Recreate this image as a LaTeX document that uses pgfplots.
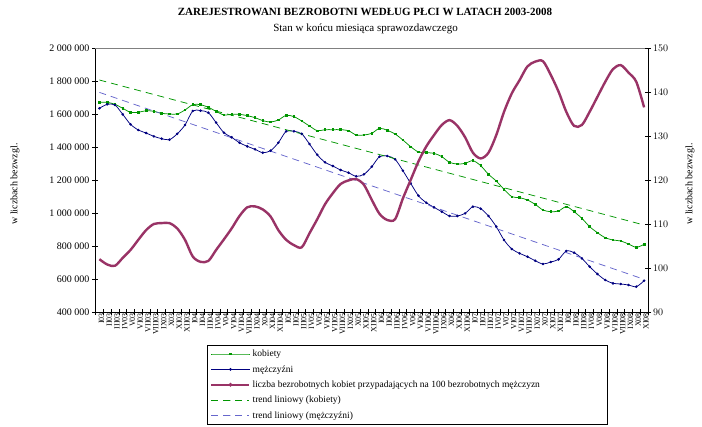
\documentclass[border=0pt]{standalone}
\usepackage{fontspec}
\setmainfont{Liberation Serif}
\usepackage{pgfplots}
\pgfplotsset{compat=1.18}
\usepackage{pgfplotstable}

\definecolor{kob}{RGB}{0,150,0}
\definecolor{mez}{RGB}{0,0,128}
\definecolor{ratio}{RGB}{153,51,102}
\definecolor{tmez}{RGB}{102,102,204}

\pgfplotstableread{
i kob mez
0 1670700 1634400
1 1670700 1658600
2 1658600 1654500
3 1634400 1598000
4 1610100 1537400
5 1610100 1503000
6 1620200 1484800
7 1616100 1464600
8 1604000 1450400
9 1600000 1444400
10 1600000 1479700
11 1624200 1533300
12 1656600 1618100
13 1656600 1620200
14 1640400 1608100
15 1616100 1547700
16 1593900 1486800
17 1598000 1458600
18 1598000 1426100
19 1589900 1404000
20 1577700 1385800
21 1559600 1365600
22 1551500 1377700
23 1563600 1426100
24 1591900 1495000
25 1583800 1495000
26 1557500 1479700
27 1527200 1418100
28 1498900 1352400
29 1505000 1307000
30 1505000 1284800
31 1505000 1260600
32 1498900 1244400
33 1472700 1222200
34 1472700 1234300
35 1482800 1280700
36 1513100 1341400
37 1501000 1345400
38 1478700 1325200
39 1442400 1256500
40 1401900 1179800
41 1369700 1105000
42 1365600 1062600
43 1361600 1034300
44 1341400 1008000
45 1307000 981800
46 1296900 981800
47 1301000 997900
48 1317100 1038300
49 1286800 1026200
50 1234300 981800
51 1193900 917100
52 1143400 836300
53 1098900 781700
54 1092900 755500
55 1078700 735200
56 1052500 711000
57 1018100 690800
58 1008000 702900
59 1012100 719100
60 1038300 769600
61 1008000 759500
62 967800 725100
63 917100 674700
64 880700 630300
65 850400 593900
66 836300 573700
67 830300 569700
68 812000 563600
69 792000 553500
70 810100 589700
}\dane

\pgfplotstableread{
i r
0 102.0
1 100.8
2 100.5
3 102.3
4 104.1
5 106.4
6 108.6
7 110.0
8 110.2
9 110.2
10 109.0
11 106.4
12 102.6
13 101.4
14 101.6
15 104.1
16 106.5
17 109.0
18 111.8
19 113.8
20 114.0
21 113.3
22 111.7
23 108.6
24 106.4
25 105.2
26 104.7
27 107.9
28 111.1
29 114.5
30 117.0
31 119.1
32 119.9
33 120.2
34 118.9
35 115.5
36 112.3
37 110.9
38 111.1
39 115.8
40 120.0
41 124.2
42 127.6
43 130.2
44 132.5
45 133.6
46 132.3
47 129.7
48 126.2
49 124.9
50 126.2
51 130.2
52 135.5
53 139.7
54 142.7
55 145.8
56 146.9
57 147.0
58 143.9
59 140.1
60 135.5
61 132.3
62 132.5
63 135.5
64 138.9
65 142.3
66 145.2
67 146.1
68 144.4
69 142.3
70 136.5
}\wsk

\pgfplotsset{
  common/.style={
    scale only axis, width=552.5pt, height=264pt,
    at={(0pt,0pt)}, anchor=south west,
    xmin=-0.5, xmax=70.5,
    axis line style={black, line width=0.8pt},
    tick style={black, line width=0.6pt},
    tick align=center, major tick length=6pt,
    tick label style={font=\fontsize{10}{12}\selectfont},
    scaled y ticks=false,
  },
}

\begin{document}
\begin{tikzpicture}
\begin{axis}[common,
  ymin=400000, ymax=2000000,
  axis x line*=bottom, axis y line*=left,
  ytick={400000,600000,...,2000000},
  yticklabels={400 000,600 000,800 000,1 000 000,1 200 000,1 400 000,1 600 000,1 800 000,2 000 000},
  yticklabel style={inner sep=1pt, xshift=-2pt},
  xtick={-0.5,0.5,...,70.5}, xticklabels={},
  extra x ticks={0,1,...,70},
  extra x tick labels={I03,II03,III03,IV03,V03,VI03,VII03,VIII03,IX03,X03,XI03,XII03,
    I04,II04,III04,IV04,V04,VI04,VII04,VIII04,IX04,X04,XI04,XII04,
    I05,II05,III05,IV05,V05,VI05,VII05,VIII05,IX05,X05,XI05,XII05,
    I06,II06,III06,IV06,V06,VI06,VII06,VIII06,IX06,X06,XI06,XII06,
    I07,II07,III07,IV07,V07,VI07,VII07,VIII07,IX07,X07,XI07,XII07,
    I08,II08,III08,IV08,V08,VI08,VII08,VIII08,IX08,X08,XI08},
  extra x tick style={major tick length=0pt,
    tick label style={rotate=90, anchor=east, inner sep=1pt, yshift=-2pt,
      font=\fontsize{8}{8}\selectfont}},
  legend cell align=left,
  legend image code/.code={\draw[mark repeat=2,mark phase=2,#1] plot coordinates {(0pt,0pt) (19pt,0pt) (38pt,0pt)};},
  legend style={at={(0.2018,-0.125)}, anchor=north west, draw=black, line width=0.6pt,
    font=\fontsize{9.5}{11}\selectfont, row sep=0pt,
    inner xsep=3pt, inner ysep=1pt,
    nodes={inner ysep=2pt, inner xsep=2pt, text height=8.4pt, text depth=3pt}},
  after end axis/.code={\draw[gray, line width=0.6pt] (rel axis cs:0,1) -- (rel axis cs:1,1);},
]
\addplot[kob, line width=0.75pt, smooth, mark=square*, mark size=0.8pt] table[x=i,y=kob]{\dane};
\addlegendentry{\makebox[350pt][l]{kobiety}}
\addplot[mez, line width=0.75pt, smooth, mark=*, mark size=0.9pt] table[x=i,y=mez]{\dane};
\addlegendentry{mężczyźni}
\addlegendimage{ratio, line width=2.4pt, mark=*, mark size=0.5pt}
\addlegendentry{liczba bezrobotnych kobiet przypadających na 100 bezrobotnych mężczyzn}
\addplot[kob, line width=0.75pt, dash pattern=on 7pt off 5pt] coordinates {(0,1806000) (70,927000)};
\addlegendentry{trend liniowy (kobiety)}
\addplot[tmez, line width=0.75pt, dash pattern=on 7pt off 5pt] coordinates {(0,1731000) (70,598000)};
\addlegendentry{trend liniowy (mężczyźni)}
\end{axis}
\begin{axis}[common,
  ymin=90, ymax=150,
  axis y line*=right, axis x line=none,
  ytick={90,100,...,150},
  yticklabel style={inner sep=1pt, xshift=1pt},
]
\addplot[ratio, line width=2.4pt, smooth] table[x=i,y=r]{\wsk};
\end{axis}
\node[font=\bfseries\fontsize{11}{13}\selectfont] at (269.5pt,300pt) {ZAREJESTROWANI BEZROBOTNI WEDŁUG PŁCI W LATACH 2003-2008};
\node[font=\fontsize{11}{13}\selectfont] at (270pt,283pt) {Stan w końcu miesiąca sprawozdawczego};
\node[rotate=90, font=\fontsize{10}{12}\selectfont] at (-80.5pt,128pt) {w liczbach bezwzgl.};
\node[rotate=90, font=\fontsize{10}{12}\selectfont] at (594.5pt,128pt) {w liczbach bezwzgl.};
\pgfresetboundingbox
\useasboundingbox (-95.5pt,-115pt) rectangle (606.5pt,312pt);
\end{tikzpicture}
\end{document}
